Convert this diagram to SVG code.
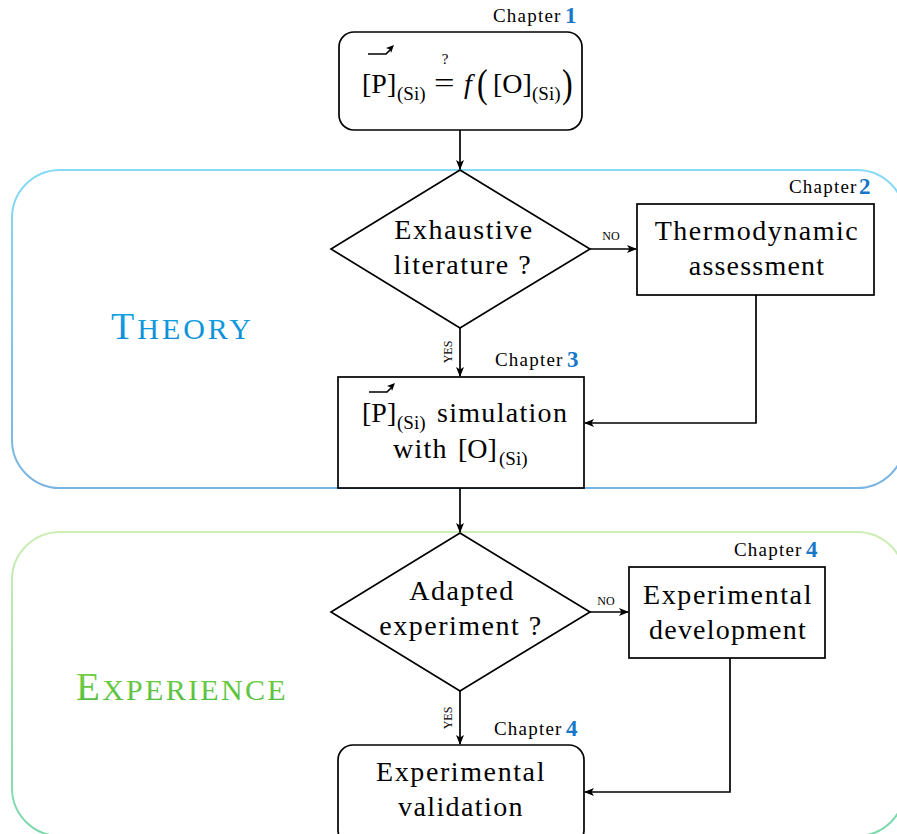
<svg xmlns="http://www.w3.org/2000/svg" width="897" height="834" viewBox="0 0 897 834">
<defs>
<linearGradient id="gTheory" x1="0" y1="0" x2="0" y2="1"><stop offset="0" stop-color="#86dbf6"/><stop offset="1" stop-color="#7ab4e2"/></linearGradient>
<linearGradient id="gExp" x1="0" y1="0" x2="0" y2="1"><stop offset="0" stop-color="#cdeeb4"/><stop offset="1" stop-color="#7ad8ac"/></linearGradient>
<linearGradient id="gTheoryTxt" x1="0" y1="0" x2="0" y2="1"><stop offset="0" stop-color="#14a8e6"/><stop offset="1" stop-color="#0a86d2"/></linearGradient>
<linearGradient id="gExpTxt" x1="0" y1="0" x2="0" y2="1"><stop offset="0" stop-color="#7fd44a"/><stop offset="1" stop-color="#4cba3c"/></linearGradient>
<marker id="ah" viewBox="0 0 10 10" refX="9" refY="5" markerWidth="10" markerHeight="10" markerUnits="userSpaceOnUse" orient="auto">
<path d="M0,1 L10,5 L0,9 L2.5,5 z" fill="#000"/>
</marker>
</defs>
<style>
text{font-family:'Liberation Serif','DejaVu Serif','Times New Roman',serif}
.t{fill:#000}
.lbl{font-size:28px;text-anchor:middle;letter-spacing:1.5px}
.node{fill:#fff;stroke:#000;stroke-width:1.7}
.con{fill:none;stroke:#000;stroke-width:1.7;marker-end:url(#ah)}
.chap{font-size:19px;letter-spacing:1.2px}
.num{font-size:23px;font-weight:bold;fill:#1877c8}
.sc{font-size:12px}
.sub{font-size:19px}
.m{font-size:28px}
</style>

<g id="theory-region">
<rect x="12" y="170" width="893" height="318" rx="48" ry="48" fill="none" stroke="url(#gTheory)" stroke-width="2"/>
<text x="111" y="339" style="fill:url(#gTheoryTxt);letter-spacing:3px"><tspan font-size="38">T</tspan><tspan font-size="30">HEORY</tspan></text>
</g>
<g id="experience-region">
<rect x="12" y="532" width="893" height="304" rx="48" ry="48" fill="none" stroke="url(#gExp)" stroke-width="2"/>
<text x="76" y="700" style="fill:url(#gExpTxt);letter-spacing:2.3px"><tspan font-size="39">E</tspan><tspan font-size="30">XPERIENCE</tspan></text>
</g>

<g id="connectors">
<path class="con" d="M460,130 L460,169"/>
<path class="con" d="M590,249 L636,249"/>
<path class="con" d="M460,328 L460,376"/>
<path class="con" d="M756,295 L756,423 L585,423"/>
<path class="con" d="M460,488 L460,532"/>
<path class="con" d="M590,612 L628,612"/>
<path class="con" d="M460,691 L460,744"/>
<path class="con" d="M730,658 L730,792 L585,792"/>
<text class="t sc" x="611" y="240" text-anchor="middle">NO</text>
<text class="t sc" x="606" y="605" text-anchor="middle">NO</text>
<text class="t sc" transform="translate(452,352) rotate(-90)" text-anchor="middle">YES</text>
<text class="t sc" transform="translate(452,718) rotate(-90)" text-anchor="middle">YES</text>
</g>

<g id="question">
<rect class="node" x="339" y="32" width="243" height="98" rx="15" ry="15"/>
<text class="t m" x="362" y="93">[P]</text>
<text class="t sub" x="397" y="100">(Si)</text>
<text class="t" x="434" y="92" font-size="28" transform="translate(434,92) scale(1.3,1) translate(-434,-92)">=</text>
<text class="t" x="445" y="64" font-size="15" text-anchor="middle">?</text>
<text class="t m" x="464" y="93" font-style="italic">f</text>
<text class="t" x="477" y="97" font-size="40" transform="translate(477,97) scale(0.8,1) translate(-477,-97)">(</text>
<text class="t m" x="493" y="93">[O]</text>
<text class="t sub" x="532" y="100">(Si)</text>
<text class="t" x="562" y="97" font-size="40" transform="translate(562,97) scale(0.8,1) translate(-562,-97)">)</text>
<path d="M368,54 L386,54 L391,49" fill="none" stroke="#000" stroke-width="1.6"/>
<path d="M394,45 L386,48 L390,49.5 L391,53 z" fill="#000"/>
<text class="t chap" x="493" y="22">Chapter</text>
<text class="t num" x="565" y="23">1</text>
</g>

<g id="literature">
<polygon class="node" points="460,170 590,249 460,328 331,249"/>
<text class="t lbl" x="464" y="239">Exhaustive</text>
<text class="t lbl" x="463" y="274">literature ?</text>
</g>

<g id="thermodynamic">
<rect class="node" x="637" y="204" width="237" height="91"/>
<text class="t lbl" x="757" y="240">Thermodynamic</text>
<text class="t lbl" x="757" y="275" style="letter-spacing:1.2px">assessment</text>
<text class="t chap" x="789" y="193">Chapter</text>
<text class="t num" x="859" y="194">2</text>
</g>

<g id="simulation">
<rect class="node" x="338" y="377" width="246" height="111"/>
<text class="t m" x="362" y="422">[P]</text>
<text class="t sub" x="397" y="429">(Si)</text>
<text class="t m" x="437" y="422" style="letter-spacing:1.3px">simulation</text>
<text class="t m" x="393" y="458" style="letter-spacing:1.2px">with</text>
<text class="t m" x="458" y="458">[O]</text>
<text class="t sub" x="499" y="465">(Si)</text>
<path d="M369,392 L387,392 L392,387" fill="none" stroke="#000" stroke-width="1.6"/>
<path d="M395,383 L387,386 L391,387.5 L392,391 z" fill="#000"/>
<text class="t chap" x="495" y="366">Chapter</text>
<text class="t num" x="567" y="367">3</text>
</g>

<g id="adapted">
<polygon class="node" points="460,533 590,612 460,691 331,612"/>
<text class="t lbl" x="462" y="600">Adapted</text>
<text class="t lbl" x="461" y="635">experiment ?</text>
</g>

<g id="development">
<rect class="node" x="629" y="567" width="196" height="91"/>
<text class="t lbl" x="728" y="604" style="letter-spacing:1.6px">Experimental</text>
<text class="t lbl" x="728" y="639" style="letter-spacing:1.2px">development</text>
<text class="t chap" x="734" y="556">Chapter</text>
<text class="t num" x="806" y="557">4</text>
</g>

<g id="validation">
<rect class="node" x="338" y="745" width="246" height="100" rx="15" ry="15"/>
<text class="t lbl" x="461" y="781" style="letter-spacing:1.6px">Experimental</text>
<text class="t lbl" x="461" y="816" style="letter-spacing:1.4px">validation</text>
<text class="t chap" x="494" y="735">Chapter</text>
<text class="t num" x="566" y="736">4</text>
</g>
</svg>
